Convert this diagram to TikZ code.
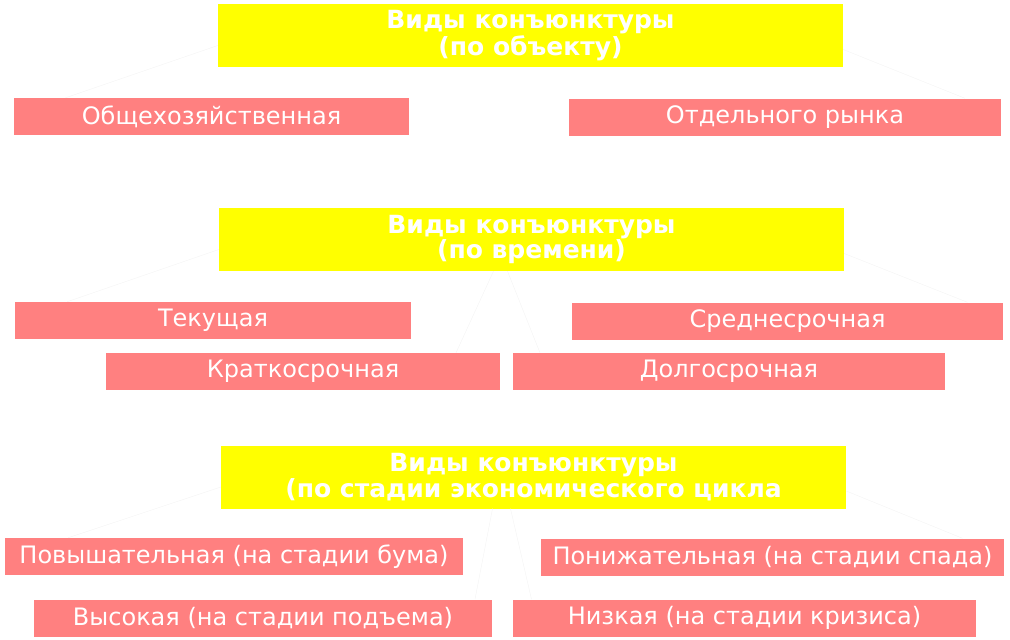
\documentclass[tikz,border=0pt]{standalone}
\usepackage{fontspec}
\setmainfont{DejaVu Sans}
\usetikzlibrary{positioning}
\definecolor{headyellow}{RGB}{255,255,0}
\definecolor{kindpink}{RGB}{255,128,128}
\tikzset{
    head/.style={fill=headyellow, text=white, font=\fontsize{25}{22}\selectfont\bfseries, align=center, minimum width=625pt, minimum height=63pt, inner sep=0pt},
    kind/.style={fill=kindpink, text=white, font=\fontsize{24}{24}\selectfont, minimum height=37pt, inner sep=0pt},
    link/.style={draw=white!96!black, line width=0.5pt}
}
\begin{document}
\begin{tikzpicture}[x=1pt, y=-1pt]
		\useasboundingbox (0,0) rectangle (1010,640);
		% by object
		\node[head] (H1) at (530.5,35.5) {Виды конъюнктуры\\(по объекту)};
		\node[kind, minimum width=395pt] (A) at (211.5,116.5) {Общехозяйственная};
		\node[kind, minimum width=432pt] (B) at (785,117) {Отдельного рынка};
		
		% by time
		\node[head] (H2) at (531.5,239.5) {Виды конъюнктуры\\(по времени)};
		\node[kind, minimum width=396pt] (C) at (213,320.5) {Текущая};
		\node[kind, minimum width=431pt] (D) at (787.5,321) {Среднесрочная};
		\node[kind, minimum width=394pt] (E) at (303,371.5) {Краткосрочная};
		\node[kind, minimum width=432pt] (F) at (729,371.5) {Долгосрочная};
		
		% by stage of cycle
		\node[head] (H3) at (533.5,477) {Виды конъюнктуры\\(по стадии экономического цикла};
		\node[kind, minimum width=458pt] (G) at (234,556.5) {Повышательная (на стадии бума)};
		\node[kind, minimum width=463pt] (K) at (772.5,557) {Понижательная (на стадии спада)};
		\node[kind, minimum width=458pt] (L) at (263,618) {Высокая (на стадии подъема)};
		\node[kind, minimum width=463pt] (M) at (744.5,618) {Низкая (на стадии кризиса)};
		
		\path [link] ([yshift=-10pt]H1.west) edge ([xshift=-146pt]A.north);
		\path [link] ([yshift=-14pt]H1.east) edge ([xshift=180pt]B.north);
		\path [link] ([yshift=-10pt]H2.west) edge ([xshift=-146pt]C.north);
		\path [link] ([yshift=-14pt]H2.east) edge ([xshift=180pt]D.north);
		\path [link] ([xshift=-38pt]H2.south) edge ([xshift=153pt]E.north);
		\path [link] ([xshift=-24pt]H2.south) edge ([xshift=-189pt]F.north);
		\path [link] ([yshift=-10pt]H3.west) edge ([xshift=-166pt]G.north);
		\path [link] ([yshift=-14pt]H3.east) edge ([xshift=190pt]K.north);
		\path [link] ([xshift=-41pt]H3.south) edge ([xshift=212pt]L.north);
		\path [link] ([xshift=-23pt]H3.south) edge ([xshift=-213pt]M.north);
		\end{tikzpicture}
\end{document}
